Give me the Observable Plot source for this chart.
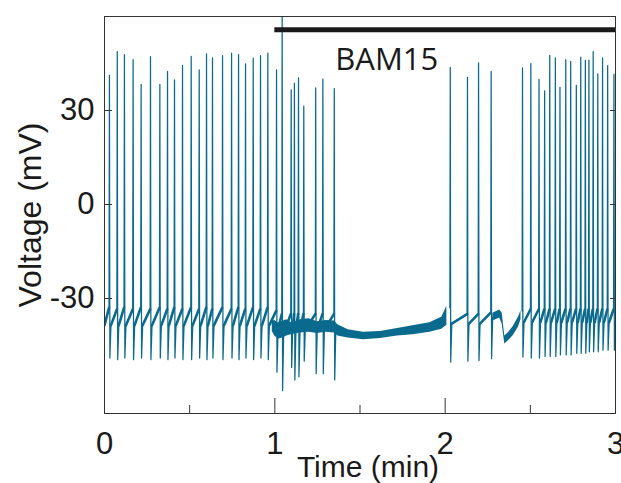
<!DOCTYPE html>
<html><head><meta charset="utf-8">
<script src="https://cdn.jsdelivr.net/npm/d3@7"></script>
<script src="https://cdn.jsdelivr.net/npm/@observablehq/plot@0.6"></script>
<style>body{margin:0;background:#fff} svg{display:block}</style>
</head><body><div id="chart"></div>
<script>
// Spike train (time in min, voltage in mV)
const spikeTime = [0.029,0.075,0.117,0.168,0.215,0.270,0.325,0.370,0.411,0.458,0.509,0.556,0.599,0.634,0.693,0.746,0.787,0.828,0.873,0.916,0.959,1.010,1.043,
  1.096,1.115,1.139,1.170,1.240,1.282,1.349,
  2.030,2.131,2.196,2.270,
  2.454,2.503,2.551,2.584,2.614,2.647,2.674,2.708,2.737,2.770,2.796,2.823,2.844,2.869,2.896,2.924,2.954,2.991];
const spikePeak = [41.2,48.8,47.8,46.2,38.3,47.2,38.3,42.5,39.8,44.4,47.3,43.0,48.1,46.8,47.5,48.3,47.8,44.9,46.7,47.5,48.3,43.0,62,
  36.6,38.7,40.4,31.4,37.2,40.0,37.0,
  43.8,40.6,45.2,42.5,
  43.6,45.0,39.9,36.3,47.6,46.8,37.4,46.2,45.7,38.0,47.0,46.0,46.1,48.8,41.7,46.8,44.3,41.6];
const spikeTrough = [-49,-49.5,-49,-49.5,-49,-49.5,-49,-49.5,-49,-49.5,-49.5,-49,-49.5,-49,-49.5,-49,-49.5,-49,-49.5,-49,-49.5,-53.5,-59.4,
  -52,-56,-55,-50,-54,-54,-56,
  -50.3,-50,-49.8,-49.2,
  -48.7,-49,-49,-48.5,-48.5,-48.5,-48,-48,-48,-47.5,-47.5,-47.5,-47,-47,-47,-46.5,-46.5,-46.5];
const spikePre = [-33,-33.5,-33,-33.5,-33,-33.5,-33,-33.5,-33,-33.5,-33,-33.5,-33,-33.5,-33,-33.5,-33,-33.5,-33,-33.5,-33,-34,-35,
  -35,-35,-35,-35,-35,-35,-35,
  -33,-35,-35,-34.5,
  -34,-33.5,-33.5,-33.5,-33.5,-33.5,-33.5,-33.5,-33.5,-33.5,-33.5,-33.5,-33.5,-33.5,-33.5,-33.5,-33.5,-33.5];
const spikeRest = [-38.5,-38.5,-38.5,-38.5,-38.5,-38.5,-38.5,-38.5,-38.5,-38.5,-38.5,-38.5,-38.5,-38.5,-38.5,-38.5,-38.5,-38.5,-38.5,-38.5,-38.5,-40,-41,
  -40,-40,-40,-40,-40,-40,-40,
  -38,-38,-38,-36,
  -37.5,-37.5,-37.5,-37.5,-37.5,-37.5,-37.5,-37.5,-37.5,-37.5,-37.5,-37.5,-37.5,-37.5,-37.5,-37.5,-37.5,-37.5];
const traceStartLevel = -38.5;

// Noisy sub-threshold band (envelope) where the cell is irregular or silent
const bandTime = [0.985,1.000,1.020,1.050,1.070,1.100,1.150,1.200,1.250,1.300,1.350,1.370,1.430,1.520,1.620,1.720,1.810,1.910,1.980,2.010,
  2.280,2.320,2.335,2.350,2.370,2.400,2.430,2.445];
const bandLow  = [-40.5,-42.0,-43.0,-42.5,-42.0,-41.5,-41.0,-40.8,-41.2,-40.8,-41.0,-42.0,-42.6,-43.2,-42.8,-42.0,-41.6,-40.8,-39.8,-38.5,
  -37.2,-36.2,-38.2,-44.5,-43.6,-41.8,-39.2,-36.8];
const bandHigh = [-37.2,-37.0,-37.8,-37.2,-36.8,-37.8,-36.8,-36.5,-37.4,-37.0,-37.2,-38.4,-40.0,-40.8,-40.5,-39.6,-38.7,-37.7,-36.0,-32.5,
  -34.7,-33.7,-34.7,-42.0,-41.0,-38.9,-36.0,-34.0];

const xTicks = [0.5, 1, 1.5, 2, 2.5];
const xMajor = [1, 2];
const xTickLabels = [0, 1, 2, 3];
const yTicks = [-30, 0, 30];
const drugName = "BAM15";
const drugStart = 1.0, drugEnd = 3.0, drugBarLevel = 55.8;

const color = "#0a6a8e";
const W = 621, H = 483, mL = 104, mR = 6, mT = 16, mB = 70;
const plotW = W - mL - mR, plotH = H - mT - mB;

// Build trace vertices
const trace = [], sub = [];
const brk = {t: NaN, v: NaN};
spikeTime.forEach((t, i) => {
  if (i === 0) { trace.push({t: 0, v: traceStartLevel}); sub.push({t: 0, v: traceStartLevel}, {t: t - 0.0025, v: spikePre[i]}, brk); }
  else if (t - spikeTime[i - 1] > 0.15) trace.push(brk);
  trace.push({t: t - 0.0025, v: spikePre[i]}, {t, v: spikePeak[i]}, {t: t + 0.0025, v: spikeTrough[i]}, {t: t + 0.009, v: spikeRest[i]});
  const n = spikeTime[i + 1];
  if (n !== undefined && n - t <= 0.15) sub.push({t: t + 0.009, v: spikeRest[i]}, {t: n - 0.0025, v: spikePre[i + 1]}, brk);
  if (n === undefined) sub.push({t: t + 0.009, v: spikeRest[i]}, {t: 3, v: spikeRest[i]});
});
const band = [];
bandTime.forEach((t, i) => {
  if (i > 0 && t - bandTime[i - 1] > 0.2) band.push({t: NaN, lo: NaN, hi: NaN});
  band.push({t, lo: bandLow[i], hi: bandHigh[i]});
});

const chart = Plot.plot({
  width: W, height: H,
  marginLeft: mL, marginRight: mR, marginTop: mT, marginBottom: mB,
  style: {fontFamily: "'Liberation Sans', Arial, sans-serif", background: "#fff", color: "#1a1a1a"},
  x: {domain: [0, 3]},
  y: {domain: [-66.7, 60]},
  marks: [
    Plot.areaY(band, {x: "t", y1: "lo", y2: "hi", fill: color, clip: true}),
    Plot.line(sub, {x: "t", y: "v", stroke: color, strokeWidth: 2.6, clip: true}),
    Plot.line(trace, {x: "t", y: "v", stroke: color, strokeWidth: 1.25, clip: true}),
    Plot.ruleY([drugBarLevel], {x1: drugStart, x2: drugEnd, stroke: "#1a1a1a", strokeWidth: 5}),
    Plot.text([drugName], {x: drugStart, y: drugBarLevel, text: d => d, dx: 112, dy: 30, fontSize: 31, fontFamily: "'Open Sans', sans-serif", fill: "#1a1a1a"}),
    Plot.frame({stroke: "#333", strokeWidth: 1}),
    Plot.tickX(xTicks.filter(d => !xMajor.includes(d)), {x: d => d, stroke: "#333", insetTop: plotH - 8}),
    Plot.tickX(xMajor, {x: d => d, stroke: "#333", insetTop: plotH - 15}),
    Plot.tickY(yTicks, {y: d => d, stroke: "#333", insetRight: plotW - 8}),
    Plot.tickY(yTicks, {y: d => d, stroke: "#333", insetLeft: plotW - 5}),
    Plot.axisX({ticks: xTickLabels, tickSize: 0, tickPadding: 18, fontSize: 31, label: null, tickFormat: d => String(d)}),
    Plot.axisY({ticks: yTicks, tickSize: 0, tickPadding: 10, fontSize: 31, label: null, tickFormat: d => String(d)}),
    Plot.text(["Time (min)"], {frameAnchor: "bottom", text: d => d, dx: 8, dy: 54, lineAnchor: "middle", fontSize: 30}),
    Plot.text(["Voltage (mV)"], {frameAnchor: "left", text: d => d, dx: -74, textAnchor: "middle", lineAnchor: "middle", rotate: -90, fontSize: 32})
  ]
});
document.getElementById("chart").appendChild(chart);
</script>
</body></html>
